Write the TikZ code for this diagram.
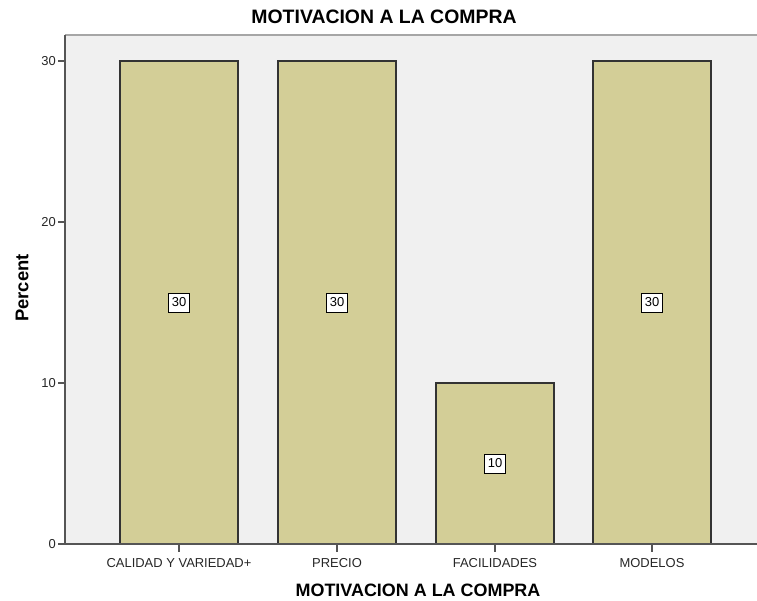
\documentclass[tikz,border=0pt]{standalone}
\usepackage{fontspec}
\setmainfont{Liberation Sans}
\definecolor{barfill}{HTML}{D3CE97}
\definecolor{plotbg}{HTML}{F0F0F0}
\definecolor{axisgray}{HTML}{555555}
\begin{document}
\begin{tikzpicture}[x=1bp,y=-1bp,
  bar/.style={draw=black!80,line width=1.2bp,fill=barfill},
  valbox/.style={draw=black,fill=white,line width=1bp,inner sep=0bp,minimum width=21bp,minimum height=19bp,font=\fontsize{13}{14}\selectfont},
  ticklab/.style={font=\fontsize{13}{14}\selectfont,text=black!85},
  axtitle/.style={font=\bfseries\fontsize{18}{20}\selectfont}]
\useasboundingbox (0,0) rectangle (757,601);
% plot background
\fill[plotbg] (65,35) rectangle (757,544);
\draw[gray!70,line width=1.2bp] (65,35) -- (757,35);
% bars
\foreach \c/\v/\n in {179/30/a,337/30/b,495/10/c,652/30/d}{
  \draw[bar] ({\c-59},544) rectangle ({\c+59},{544-16.1*\v});
  \node[valbox] (v\n) at (\c,{544-8.05*\v}) {\v};
  \draw[axisgray,line width=1.2bp] (\c,544) -- (\c,552);
}
% axes
\draw[axisgray,line width=1.4bp] (65,35) -- (65,544) -- (757,544);
\foreach \v in {0,10,20,30}{
  \draw[axisgray,line width=1.2bp] (58,{544-16.1*\v}) -- (65,{544-16.1*\v});
  \node[ticklab,anchor=east,inner sep=1bp] (t\v) at (57,{544-16.1*\v}) {\v};
}
\node[ticklab] (la) at (179,563) {CALIDAD Y VARIEDAD+};
\node[ticklab] (lb) at (337,563) {PRECIO};
\node[ticklab] (lc) at (495,563) {FACILIDADES};
\node[ticklab] (ld) at (652,563) {MODELOS};
\node[axtitle,font=\bfseries\fontsize{19.5}{21}\selectfont] (title) at (384,17) {MOTIVACION A LA COMPRA};
\node[axtitle] (xtitle) at (418,590) {MOTIVACION A LA COMPRA};
\node[axtitle,rotate=90,font=\bfseries\fontsize{18.5}{20}\selectfont] (ytitle) at (22,288) {Percent};
\end{tikzpicture}
\end{document}
